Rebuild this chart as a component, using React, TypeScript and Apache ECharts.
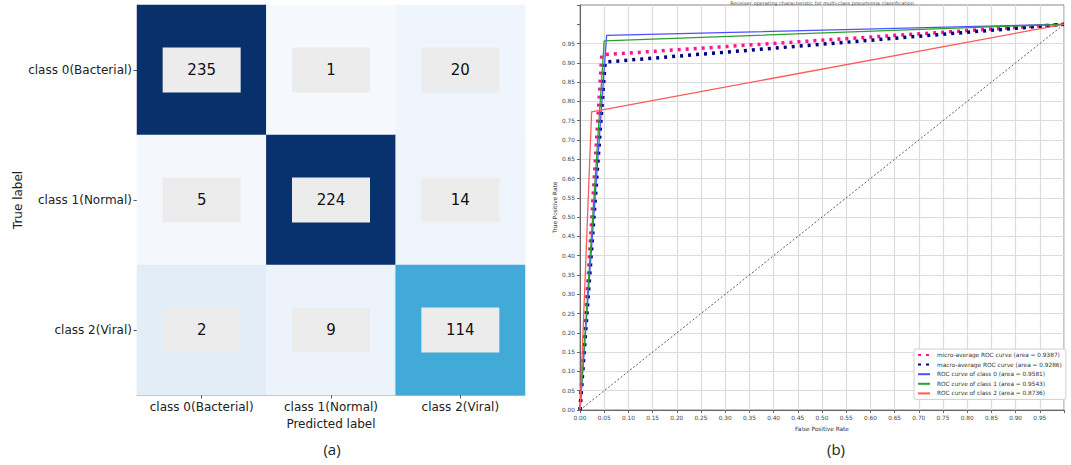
import React, { useEffect, useRef } from 'react';
import * as echarts from 'echarts';

// ---------- Confusion matrix (a) ----------
const classLabels = ['class 0(Bacterial)', 'class 1(Normal)', 'class 2(Viral)'];
const confusion = [
  [235, 1, 20],
  [5, 224, 14],
  [2, 9, 114],
];
const cellColors = [
  ['#08306b', '#f5f9fe', '#eff5fc'],
  ['#f4f8fd', '#08326e', '#eef4fc'],
  ['#e3edf8', '#ecf3fb', '#41aad6'],
];

// ---------- ROC curves (b) ----------
const microFpr = [0, 0.045, 1];
const microTpr = [0, 0.921, 1];
const macroFpr = [0, 0.052, 1];
const macroTpr = [0, 0.902, 1];
const class0Fpr = [0, 0.055, 1];
const class0Tpr = [0, 0.971, 1];
const class1Fpr = [0, 0.05, 1];
const class1Tpr = [0, 0.957, 1];
const class2Fpr = [0, 0.024, 1];
const class2Tpr = [0, 0.773, 1];
const chanceFpr = [0, 1];
const chanceTpr = [0, 1];

const rocNames = [
  'micro-average ROC curve (area = 0.9387)',
  'macro-average ROC curve (area = 0.9286)',
  'ROC curve of class 0 (area = 0.9581)',
  'ROC curve of class 1 (area = 0.9543)',
  'ROC curve of class 2 (area = 0.8736)',
];

const zip = (xs: number[], ys: number[]) => xs.map((x, i) => [x, ys[i]]);

export default function App() {
  const ref = useRef<HTMLDivElement>(null);

  useEffect(() => {
    if (!ref.current) return;
    const chart = echarts.init(ref.current, undefined, { renderer: 'svg' });

    const heatData: any[] = [];
    const pieces: any[] = [];
    confusion.forEach((row, r) =>
      row.forEach((v, c) => {
        const idx = r * 3 + c;
        heatData.push([c, r, v, idx]);
        pieces.push({ value: idx, color: cellColors[r][c] });
      })
    );

    const small = { fontFamily: 'DejaVu Sans', fontSize: 5.8, color: '#444' };
    const ySplitColors: string[] = [];
    for (let i = 0; i < 22; i++) ySplitColors.push(i >= 20 ? 'rgba(0,0,0,0)' : '#dcdcdc');

    chart.setOption({
      animation: false,
      visualMap: {
        type: 'piecewise',
        show: false,
        seriesIndex: 0,
        dimension: 3,
        pieces,
      },
      title: [
        {
          text: 'Receiver operating characteristic for multi-class pneumonia classification',
          left: 822,
          top: 0,
          padding: 0,
          textAlign: 'center',
          textStyle: { ...small, fontSize: 5, fontWeight: 'normal', color: '#555' },
        },
        {
          text: '(a)',
          left: 327,
          top: 436,
          textAlign: 'center',
          textStyle: { fontFamily: 'Open Sans', fontSize: 15, fontWeight: 'normal', color: '#222' },
        },
        {
          text: '(b)',
          left: 831,
          top: 436,
          textAlign: 'center',
          textStyle: { fontFamily: 'Open Sans', fontSize: 15, fontWeight: 'normal', color: '#222' },
        },
      ],
      legend: {
        data: rocNames,
        orient: 'vertical',
        left: 914,
        top: 349,
        itemWidth: 12,
        itemHeight: 5,
        itemGap: 3.6,
        padding: [3, 4, 3, 3],
        backgroundColor: '#fff',
        borderColor: '#cfcfcf',
        borderWidth: 1,
        borderRadius: 2,
        itemStyle: { opacity: 0 },
        textStyle: { ...small, color: '#333', padding: [0, 0, 0, 2] },
      },
      grid: [
        { left: 137, top: 5, width: 388, height: 390 },
        {
          left: 580,
          top: 5,
          width: 484,
          height: 405,
          show: true,
          borderColor: '#888',
          borderWidth: 1,
          backgroundColor: '#fff',
        },
      ],
      xAxis: [
        {
          type: 'category',
          gridIndex: 0,
          data: classLabels,
          name: 'Predicted label',
          nameLocation: 'middle',
          nameGap: 21,
          nameTextStyle: { fontFamily: 'DejaVu Sans', fontSize: 12, color: '#222' },
          axisLine: { show: true, lineStyle: { color: '#bbb' } },
          axisTick: { show: true, alignWithLabel: true, length: 3.5, lineStyle: { color: '#555' } },
          axisLabel: { fontFamily: 'DejaVu Sans', fontSize: 12, color: '#222', margin: 6, interval: 0 },
          splitLine: { show: false },
        },
        {
          type: 'value',
          gridIndex: 1,
          min: 0,
          max: 1,
          interval: 0.05,
          name: 'False Positive Rate',
          nameLocation: 'middle',
          nameGap: 14,
          nameTextStyle: { ...small, color: '#333' },
          axisLine: { show: true, lineStyle: { color: '#666' } },
          axisTick: { show: true, length: 3, lineStyle: { color: '#666' } },
          axisLabel: {
            ...small,
            margin: 5,
            formatter: (v: number) => (v > 0.975 ? '' : v.toFixed(2)),
          },
          splitLine: { show: true, lineStyle: { color: '#dcdcdc', width: 1.2 } },
        },
      ],
      yAxis: [
        {
          type: 'category',
          gridIndex: 0,
          data: classLabels,
          inverse: true,
          name: 'True label',
          nameLocation: 'middle',
          nameGap: 113,
          nameRotate: 90,
          nameTextStyle: { fontFamily: 'DejaVu Sans', fontSize: 12, color: '#222' },
          axisLine: { show: true, lineStyle: { color: '#bbb' } },
          axisTick: { show: true, alignWithLabel: true, length: 3.5, lineStyle: { color: '#555' } },
          axisLabel: { fontFamily: 'DejaVu Sans', fontSize: 12, color: '#222', margin: 5, interval: 0 },
          splitLine: { show: false },
        },
        {
          type: 'value',
          gridIndex: 1,
          min: 0,
          max: 1.05,
          interval: 0.05,
          name: 'True Positive Rate',
          nameLocation: 'middle',
          nameGap: 19,
          nameRotate: 90,
          nameTextStyle: { ...small, color: '#333' },
          axisLine: { show: true, lineStyle: { color: '#666' } },
          axisTick: { show: true, length: 3, lineStyle: { color: '#666' } },
          axisLabel: {
            ...small,
            margin: 5,
            formatter: (v: number) => (v > 0.975 ? '' : v.toFixed(2)),
          },
          splitLine: { show: true, lineStyle: { color: ySplitColors, width: 1.2 } },
        },
      ],
      series: [
        {
          type: 'heatmap',
          xAxisIndex: 0,
          yAxisIndex: 0,
          data: heatData,
          label: {
            show: true,
            formatter: (p: any) => String(p.value[2]),
            fontFamily: 'DejaVu Sans',
            fontSize: 15,
            color: '#111',
            backgroundColor: '#ececec',
            width: 78,
            height: 45,
            lineHeight: 45,
            align: 'center',
            verticalAlign: 'middle',
          },
        },
        {
          name: rocNames[0],
          type: 'line',
          xAxisIndex: 1,
          yAxisIndex: 1,
          data: zip(microFpr, microTpr),
          symbol: 'none',
          color: '#ff1493',
          lineStyle: { color: '#ff1493', width: 3.5, type: [3, 5] },
        },
        {
          name: rocNames[1],
          type: 'line',
          xAxisIndex: 1,
          yAxisIndex: 1,
          data: zip(macroFpr, macroTpr),
          symbol: 'none',
          color: '#000080',
          lineStyle: { color: '#000080', width: 3.5, type: [3, 5] },
        },
        {
          name: rocNames[2],
          type: 'line',
          xAxisIndex: 1,
          yAxisIndex: 1,
          data: zip(class0Fpr, class0Tpr),
          symbol: 'none',
          color: '#4f4fff',
          lineStyle: { color: '#4f4fff', width: 1.3 },
        },
        {
          name: rocNames[3],
          type: 'line',
          xAxisIndex: 1,
          yAxisIndex: 1,
          data: zip(class1Fpr, class1Tpr),
          symbol: 'none',
          color: '#2ca02c',
          lineStyle: { color: '#2ca02c', width: 1.3 },
        },
        {
          name: rocNames[4],
          type: 'line',
          xAxisIndex: 1,
          yAxisIndex: 1,
          data: zip(class2Fpr, class2Tpr),
          symbol: 'none',
          color: '#ff5a5a',
          lineStyle: { color: '#ff5a5a', width: 1.3 },
        },
        {
          name: 'chance',
          type: 'line',
          xAxisIndex: 1,
          yAxisIndex: 1,
          data: zip(chanceFpr, chanceTpr),
          symbol: 'none',
          color: '#333',
          lineStyle: { color: '#333', width: 0.8, type: [2, 2] },
        },
      ],
    });

    return () => chart.dispose();
  }, []);

  return (
    <div
      ref={ref}
      style={{ position: 'absolute', left: 0, top: 0, width: 1071, height: 465, background: '#fff' }}
    />
  );
}
